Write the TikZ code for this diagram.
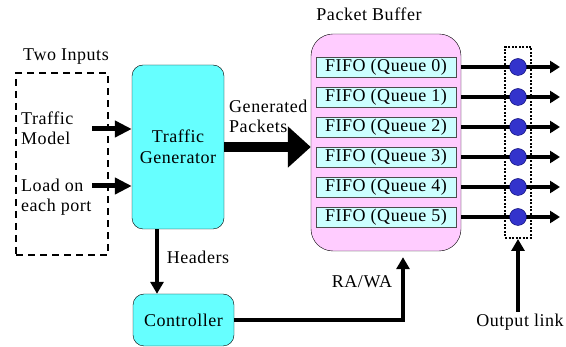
\documentclass[tikz,border=0pt]{standalone}
\usepackage{fontspec}
\setmainfont[LetterSpace=3]{Liberation Serif}
\newfontfamily\diagfont[LetterSpace=3]{Liberation Serif}
\usetikzlibrary{arrows.meta}
\definecolor{genfill}{HTML}{66FFFF}
\definecolor{buffill}{HTML}{FFCCFF}
\definecolor{fifofill}{HTML}{CCFFFF}
\definecolor{dotfill}{HTML}{3333CC}
\begin{document}
\begin{tikzpicture}[x=1pt, y=-1pt,
    font=\diagfont\fontsize{18}{20}\selectfont,
    block/.style={draw=black, fill=genfill, rounded corners=11pt,
        align=center, inner sep=0pt, font=\diagfont\fontsize{18}{21}\selectfont},
    buffer/.style={draw=black, fill=buffill, rounded corners=22pt, inner sep=0pt,
        minimum width=150pt, minimum height=217pt},
    fifo/.style={draw=black!70, fill=fifofill, inner sep=0pt,
        minimum width=140pt, minimum height=20pt},
    port/.style={circle, draw=blue!40!black, fill=dotfill, inner sep=0pt,
        minimum size=17pt},
    label/.style={align=left, inner sep=0pt},
    inarrow/.style={line width=5pt, -{Triangle[length=17pt, width=16pt]}},
    bigarrow/.style={line width=10pt, -{Triangle[length=23pt, width=40pt]}},
    edge/.style={line width=4pt, -{Triangle[length=12pt, width=13pt]}},
    outedge/.style={line width=4pt, -{Triangle[length=10pt, width=12pt]}}
]
    \useasboundingbox (0,0) rectangle (566,347);
    % inputs
    \node[label] (two) at (66,57) {Two Inputs};
    \node[draw, line width=2pt, dash pattern=on 7pt off 5pt, minimum width=92pt,
        minimum height=182pt] (inbox) at (62,164) {};
    \node[label, anchor=west] (tm) at (21,128) {Traffic\\Model};
    \node[label, anchor=west] (load) at (21,197) {Load on\\each port};
    % generator and controller
    \node[block, minimum width=92pt, minimum height=164pt] (gen) at (178,147)
        {Traffic\\Generator};
    \node[block, minimum width=101pt, minimum height=52pt] (ctrl) at (183.5,320)
        {Controller};
    % packet buffer
    \node[label] (pb) at (369,14) {Packet Buffer};
    \node[buffer] (buf) at (386,142.5) {};
    \foreach \i in {0,...,5} {
        \node[fifo] (q\i) at (386,67+30*\i) {FIFO (Queue \i)};
    }
    \node[label, anchor=west] (gp) at (229,116) {Generated\\Packets};
    \node[label] (hd) at (198,257) {Headers};
    \node[label] (ra) at (362,282) {RA/WA};
    \node[label] (ol) at (520,322) {Output link};
    % connectors
    \coordinate (tmin) at (92,129);
    \coordinate (loadin) at (92,186);
    \draw[inarrow] (tmin) -- (tmin -| gen.west);
    \draw[inarrow] (loadin) -- (loadin -| gen.west);
    \draw[bigarrow] (gen.east) -- (gen.east -| buf.west);
    \draw[edge] ([xshift=-21pt]gen.south) -- ([xshift=-21pt]gen.south |- ctrl.north);
    \draw[edge, shorten >=6pt] (ctrl.east) -| ([xshift=17pt]buf.south);
    % output ports
    \foreach \i in {0,...,5} {
        \coordinate (out\i) at (560,67+30*\i);
        \draw[outedge] (q\i.east -| buf.east) -- (out\i);
    }
    \node[draw, line width=2pt, dash pattern=on 2pt off 1.5pt, minimum width=26pt,
        minimum height=191pt] (obox) at (518,142.5) {};
    \foreach \i in {0,...,5} {
        \node[port] (p\i) at (518,67+30*\i) {};
    }
    \coordinate (olin) at (518,312);
    \draw[edge] (olin) -- (obox.south);
\end{tikzpicture}
\end{document}
